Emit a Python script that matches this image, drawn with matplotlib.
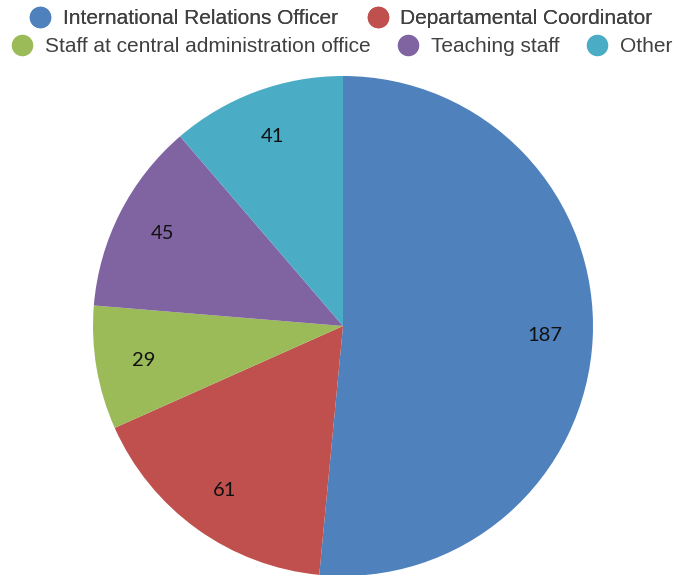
import matplotlib
matplotlib.use("Agg")
import matplotlib.pyplot as plt
from matplotlib.lines import Line2D

categories = ["International Relations Officer", "Departamental Coordinator",
              "Staff at central administration office", "Teaching staff", "Other"]
values = [187, 61, 29, 45, 41]
colors = ["#4F81BD", "#C0504D", "#9BBB59", "#8064A2", "#4BACC6"]

W, H = 677, 575
fig = plt.figure(figsize=(W / 100, H / 100), dpi=100)

cx, cy, r = 343, 326, 250
ax = fig.add_axes([(cx - r) / W, (H - cy - r) / H, 2 * r / W, 2 * r / H])

total = sum(values)
wedges, texts, autotexts = ax.pie(
    values, colors=colors, startangle=90, counterclock=False,
    autopct=lambda p: f"{round(p * total / 100):d}", pctdistance=0.81,
    wedgeprops=dict(linewidth=0),
    textprops=dict(fontsize=14.5, family="Lato", color="#111111"),
)
ax.set_xlim(-1, 1)
ax.set_ylim(-1, 1)
ax.set_aspect("equal")
ax.axis("off")

handles = [Line2D([], [], marker="o", linestyle="none", markersize=14.5,
                  markerfacecolor=c, markeredgecolor=c) for c in colors]

fs = 15
legend_kw = dict(frameon=False, loc="center left", prop=dict(family="Liberation Sans", size=fs),
                 labelcolor="#404040", handletextpad=0.6,
                 handlelength=1.0, borderpad=0, borderaxespad=0)
hl = fs * 100 / 72  # handle length in pixels
leg1 = fig.legend(handles[:2], categories[:2], ncol=2, columnspacing=1.4,
                  bbox_to_anchor=((40 - hl / 2) / W, 1 - 19 / H), **legend_kw)
leg2 = fig.legend(handles[2:], categories[2:], ncol=3, columnspacing=1.3,
                  bbox_to_anchor=((22 - hl / 2) / W, 1 - 46.5 / H), **legend_kw)
fig.add_artist(leg1)

fig.savefig("out.png", dpi=100)
